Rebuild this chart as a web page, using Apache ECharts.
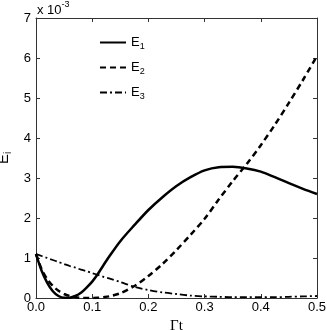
<!DOCTYPE html>
<html>
<head>
<meta charset="utf-8">
<script src="https://cdn.jsdelivr.net/npm/echarts@6/dist/echarts.min.js"></script>
<style>
  html, body { margin: 0; padding: 0; background: #fff; }
  #chart { width: 327px; height: 330px; }
</style>
</head>
<body>
<div id="chart"></div>
<script>
// time values (Γt) shared by all three curves
const tValues = [0, 0.01, 0.02, 0.03, 0.04, 0.05, 0.06, 0.07, 0.08, 0.09, 0.1, 0.11, 0.12, 0.13,
  0.15, 0.175, 0.2, 0.225, 0.25, 0.275, 0.3, 0.325, 0.35, 0.375, 0.4, 0.425, 0.45, 0.475, 0.5]

// values in units of 1e-3
const e1 = [1.1, 0.68, 0.38, 0.17, 0.05, 0.004, 0.008, 0.05, 0.13, 0.26, 0.41, 0.6, 0.82, 1.03,
  1.42, 1.82, 2.2, 2.52, 2.8, 3.02, 3.19, 3.27, 3.28, 3.24, 3.16, 3.02, 2.87, 2.73, 2.6]
const e2 = [1.1, 0.72, 0.47, 0.3, 0.18, 0.1, 0.05, 0.02, 0.005, 0, 0, 0.005, 0.02, 0.04,
  0.12, 0.3, 0.55, 0.85, 1.2, 1.58, 1.98, 2.46, 2.92, 3.35, 3.82, 4.33, 4.88, 5.45, 6.05]
const e3 = [1.1, 1.05, 1.0, 0.95, 0.9, 0.85, 0.8, 0.76, 0.71, 0.67, 0.62, 0.58, 0.53, 0.49,
  0.4, 0.28, 0.2, 0.14, 0.1, 0.06, 0.04, 0.03, 0.02, 0.02, 0.02, 0.02, 0.03, 0.04, 0.05]

const seriesNames = ['E1', 'E2', 'E3']
const xTicks = [0, 0.1, 0.2, 0.3, 0.4, 0.5]
const yTicks = [0, 1, 2, 3, 4, 5, 6, 7]

const pairs = (ys) => tValues.map((t, i) => [t, ys[i]])

const chart = echarts.init(document.getElementById('chart'))

const font = 'Liberation Sans, Arial, sans-serif'
const axisColor = '#333'

const baseAxis = {
  axisLine: { show: true, onZero: false, lineStyle: { color: axisColor, width: 1 } },
  axisTick: { show: true, inside: true, length: 4, lineStyle: { color: axisColor } },
  splitLine: { show: false }
}

const option = {
  animation: false,
  backgroundColor: '#fff',
  grid: { left: 36, right: 10, top: 18, bottom: 32, containLabel: false, outerBoundsMode: 'none' },
  legend: {
    orient: 'vertical',
    left: 94,
    top: 31,
    itemWidth: 26,
    itemHeight: 10,
    itemGap: 10,
    data: seriesNames,
    itemStyle: { opacity: 0 },
    formatter: (name) => '{b|E}{s|' + name.slice(1) + '}',
    textStyle: {
      rich: {
        b: { fontSize: 13, fontFamily: font, color: '#000' },
        s: { fontSize: 9, fontFamily: font, color: '#000', verticalAlign: 'bottom', padding: [8, 0, 0, 0] }
      }
    }
  },
  xAxis: [
    {
      ...baseAxis,
      type: 'value',
      min: xTicks[0],
      max: xTicks[xTicks.length - 1],
      interval: 0.1,
      axisLabel: {
        color: '#000', fontSize: 13, fontFamily: font, margin: 3,
        formatter: (v) => v.toFixed(1)
      },
      name: 'Γt',
      nameLocation: 'middle',
      nameGap: 20,
      nameTextStyle: { color: '#000', fontSize: 15, fontFamily: 'Liberation Serif, Times New Roman, serif' }
    },
    {
      ...baseAxis,
      type: 'value',
      position: 'top',
      min: xTicks[0],
      max: xTicks[xTicks.length - 1],
      interval: 0.1,
      axisLabel: { show: false }
    }
  ],
  yAxis: [
    {
      ...baseAxis,
      type: 'value',
      min: yTicks[0],
      max: yTicks[yTicks.length - 1],
      interval: 1,
      axisLabel: { color: '#000', fontSize: 13, fontFamily: font, margin: 5 },
      name: '{b|E}{s|i}',
      nameLocation: 'middle',
      nameGap: 19,
      nameRotate: 90,
      nameTextStyle: {
        rich: {
          b: { fontSize: 15, fontFamily: font, color: '#000' },
          s: { fontSize: 10, fontFamily: font, color: '#000', padding: [8, 0, 0, 0] }
        }
      }
    },
    {
      ...baseAxis,
      type: 'value',
      position: 'right',
      min: yTicks[0],
      max: yTicks[yTicks.length - 1],
      interval: 1,
      axisLabel: { show: false }
    }
  ],
  graphic: [
    {
      type: 'text',
      left: 37,
      top: 0,
      style: {
        text: '{b|x 10}{s|-3}',
        rich: {
          b: { fontSize: 13, fontFamily: font, fill: '#000', padding: [6, 0, 0, 0] },
          s: { fontSize: 9, fontFamily: font, fill: '#000', padding: [0, 0, 6, 0] }
        }
      }
    }
  ],
  series: [
    {
      name: seriesNames[0],
      type: 'line',
      data: pairs(e1),
      smooth: 0.3,
      symbol: 'none',
      itemStyle: { color: '#000' },
      lineStyle: { color: '#000', width: 2.5, type: 'solid' }
    },
    {
      name: seriesNames[1],
      type: 'line',
      data: pairs(e2),
      smooth: 0.3,
      symbol: 'none',
      itemStyle: { color: '#000' },
      lineStyle: { color: '#000', width: 2.5, type: [6, 4] }
    },
    {
      name: seriesNames[2],
      type: 'line',
      data: pairs(e3),
      smooth: 0.3,
      symbol: 'none',
      itemStyle: { color: '#000' },
      lineStyle: { color: '#000', width: 1.8, type: [7, 3, 2, 3] }
    }
  ]
}

chart.setOption(option)
</script>
</body>
</html>
